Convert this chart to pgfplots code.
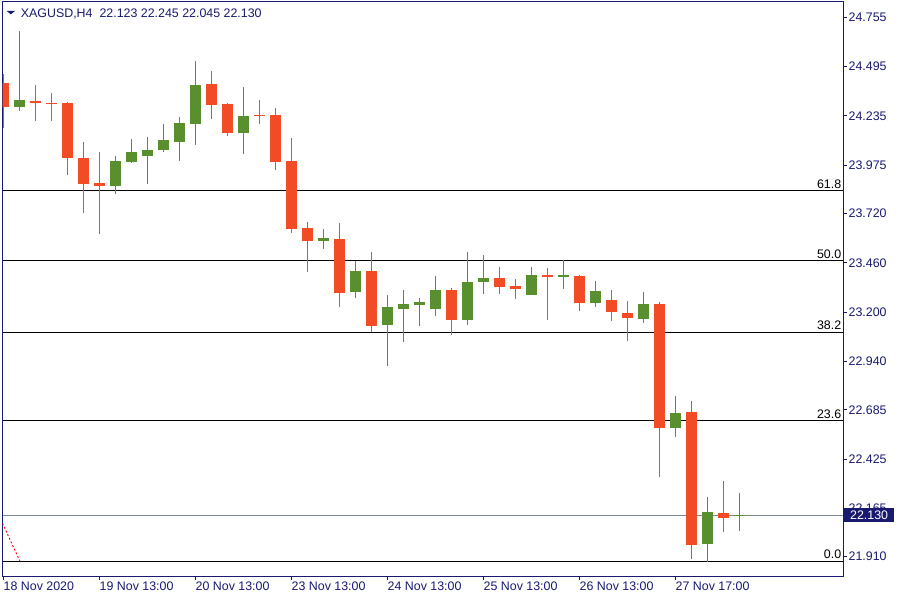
\documentclass[border=0pt]{standalone}
\usepackage{fontspec}
\setmainfont{Liberation Sans}
\usepackage{pgfplots}
\pgfplotsset{compat=1.18}
\usepackage{pgfplotstable}
\definecolor{cRed}{RGB}{242,76,39}
\definecolor{cGreen}{RGB}{90,143,48}
\definecolor{navy}{RGB}{25,25,112}
\definecolor{pgray}{RGB}{125,138,152}

\pgfplotstableread{
x o h l c
0 24.408 24.456 24.173 24.283
2 24.313 24.398 24.210 24.303
3 24.303 24.356 24.210 24.299
4 24.303 24.306 23.923 24.014
5 24.013 24.097 23.724 23.877
6 23.881 24.045 23.614 23.867
13 24.403 24.472 24.220 24.294
14 24.298 24.303 24.127 24.146
16 24.240 24.320 24.194 24.236
17 24.240 24.278 23.951 23.993
18 23.997 24.120 23.619 23.640
19 23.644 23.675 23.413 23.577
21 23.586 23.670 23.229 23.302
23 23.417 23.517 23.097 23.128
28 23.317 23.327 23.081 23.160
31 23.380 23.438 23.297 23.334
32 23.338 23.375 23.271 23.324
34 23.396 23.433 23.160 23.387
36 23.390 23.396 23.208 23.246
38 23.264 23.317 23.155 23.199
39 23.197 23.259 23.049 23.171
41 23.245 23.253 22.332 22.590
43 22.673 22.731 21.900 21.973
45 22.139 22.309 22.042 22.116
}\redc

\pgfplotstableread{
x o h l c
1 24.283 24.683 24.261 24.319
7 23.867 24.023 23.825 23.997
8 23.993 24.113 23.988 24.045
9 24.025 24.125 23.877 24.055
10 24.057 24.192 24.046 24.108
11 24.099 24.229 23.999 24.197
12 24.194 24.524 24.083 24.398
15 24.146 24.387 24.036 24.234
20 23.577 23.638 23.535 23.591
22 23.308 23.470 23.276 23.417
24 23.134 23.290 22.917 23.227
25 23.218 23.317 23.044 23.243
26 23.239 23.274 23.128 23.253
27 23.218 23.390 23.181 23.317
29 23.160 23.517 23.134 23.359
30 23.360 23.501 23.297 23.380
33 23.292 23.438 23.290 23.396
35 23.387 23.475 23.324 23.396
37 23.246 23.364 23.229 23.311
40 23.165 23.306 23.144 23.243
42 22.590 22.759 22.540 22.668
44 21.979 22.225 21.884 22.146
46 22.123 22.245 22.045 22.130
}\greenc

\newcommand{\lf}{\fontsize{12.4}{14}\selectfont}

\begin{document}
\begin{tikzpicture}[x=1pt,y=1pt]
\useasboundingbox (-2.5,-24) rectangle (897.5,576);
\begin{axis}[
  anchor=south west, scale only axis,
  width=840.5pt, height=574pt,
  clip bounding box=upper bound,
  xmin=-0.0625, xmax=52.47, ymin=21.8082, ymax=24.8357,
  axis line style={draw=navy, line width=1pt},
  tick style={draw=navy, line width=0.8pt},
  tick align=outside, major tick length=3.5pt,
  xtick pos=left, ytick pos=right, yticklabel pos=right,
  xtick={0,6,12,18,24,30,36,42},
  xticklabels={18 Nov 2020,19 Nov 13:00,20 Nov 13:00,23 Nov 13:00,24 Nov 13:00,25 Nov 13:00,26 Nov 13:00,27 Nov 17:00},
  ytick={24.755,24.495,24.235,23.975,23.720,23.460,23.200,22.940,22.685,22.425,22.165,21.910},
  yticklabels={24.755,24.495,24.235,23.975,23.720,23.460,23.200,22.940,22.685,22.425,22.165,21.910},
  ticklabel style={font=\lf, text=navy},
  xticklabel style={anchor=north west, inner sep=0pt, yshift=-2pt},
  yticklabel style={anchor=west, inner sep=0pt, xshift=2pt},
  clip=true,
]
% Fibonacci levels
\addplot[black, line width=1pt, forget plot] coordinates {(-0.0625,23.839) (52.47,23.839)};
\addplot[black, line width=1pt, forget plot] coordinates {(-0.0625,23.470) (52.47,23.470)};
\addplot[black, line width=1pt, forget plot] coordinates {(-0.0625,23.095) (52.47,23.095)};
\addplot[black, line width=1pt, forget plot] coordinates {(-0.0625,22.629) (52.47,22.629)};
\addplot[black, line width=1pt, forget plot] coordinates {(-0.0625,21.886) (52.47,21.886)};
% current price line
\addplot[pgray, line width=0.9pt, forget plot] coordinates {(-0.0625,22.130) (52.47,22.130)};
% fib trend line (visible part)
\addplot[red, line width=0.9pt, dash pattern=on 2pt off 2pt, forget plot] coordinates {(-0.0625,22.086) (1.03,21.886)};

% wicks
\addplot[draw=none, forget plot, error bars/.cd, y dir=plus, y explicit, error mark=none,
  error bar style={draw=cRed, line width=1pt}]
  table[x=x, y=l, y error expr=\thisrow{h}-\thisrow{l}] {\redc};
\addplot[draw=none, forget plot, error bars/.cd, y dir=plus, y explicit, error mark=none,
  error bar style={draw=cGreen, line width=1pt}]
  table[x=x, y=l, y error expr=\thisrow{h}-\thisrow{l}] {\greenc};
% bodies
\addplot[draw=none, forget plot, error bars/.cd, y dir=plus, y explicit, error mark=none,
  error bar style={draw=cRed, line width=11pt}]
  table[x=x, y expr={min(\thisrow{o},\thisrow{c})}, y error expr={max(abs(\thisrow{c}-\thisrow{o}),0.006)}] {\redc};
\addplot[draw=none, forget plot, error bars/.cd, y dir=plus, y explicit, error mark=none,
  error bar style={draw=cGreen, line width=11pt}]
  table[x=x, y expr={min(\thisrow{o},\thisrow{c})}, y error expr={max(abs(\thisrow{c}-\thisrow{o}),0.006)}] {\greenc};

\node[anchor=south east, inner sep=0pt, yshift=2pt, font=\lf] at (axis cs:52.37,23.839) {61.8};
\node[anchor=south east, inner sep=0pt, yshift=2pt, font=\lf] at (axis cs:52.37,23.470) {50.0};
\node[anchor=south east, inner sep=0pt, yshift=2pt, font=\lf] at (axis cs:52.37,23.095) {38.2};
\node[anchor=south east, inner sep=0pt, yshift=2pt, font=\lf] at (axis cs:52.37,22.629) {23.6};
\node[anchor=south east, inner sep=0pt, yshift=2pt, font=\lf] at (axis cs:52.37,21.886) {0.0};
\coordinate (cp) at (axis cs:52.47,22.130);
\end{axis}
\node[anchor=west, fill=navy, text=white, inner xsep=6pt, inner ysep=0pt, minimum height=13.4pt, font=\lf] at ([xshift=1pt]cp) {22.130};
\fill[navy] (4.2,565) -- (12.5,565) -- (8.35,561.7) -- cycle;
\node[anchor=base west, inner sep=0pt, text=navy, font=\lf] at (18.2,558.7) {XAGUSD,H4\hspace{7pt}22.123 22.245 22.045 22.130};
\end{tikzpicture}
\end{document}
